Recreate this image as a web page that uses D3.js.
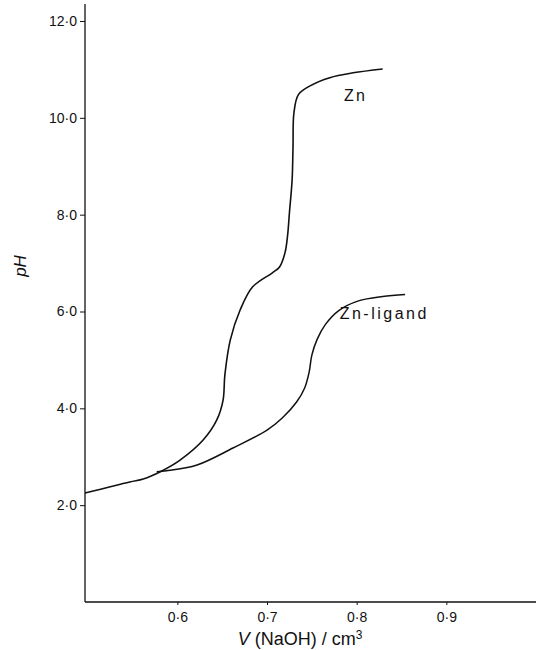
<!DOCTYPE html>
<html>
<head>
<meta charset="utf-8">
<script src="https://cdn.jsdelivr.net/npm/d3@7/dist/d3.min.js"></script>
<style>
  html, body { margin: 0; padding: 0; background: #fff; }
  svg { display: block; }
  text { font-family: "Liberation Sans", Arial, sans-serif; fill: #111; }
</style>
</head>
<body>
<svg id="chart" width="536" height="650"></svg>
<script>
// Titration curves: pH against volume of NaOH added
const znVolume = [0.497, 0.547, 0.562, 0.581, 0.603, 0.629, 0.644, 0.651, 0.653, 0.659,
                  0.670, 0.684, 0.706, 0.714, 0.720, 0.723, 0.725, 0.728, 0.729, 0.730,
                  0.735, 0.748, 0.770, 0.796, 0.829];
const znPH     = [2.25, 2.48, 2.54, 2.69, 2.93, 3.35, 3.76, 4.17, 4.69, 5.41,
                  6.03, 6.51, 6.80, 6.92, 7.21, 7.58, 8.04, 8.72, 9.40, 10.10,
                  10.48, 10.66, 10.83, 10.93, 11.01];

const ligVolume = [0.577, 0.588, 0.622, 0.662, 0.700, 0.717, 0.733, 0.742, 0.747, 0.750,
                   0.756, 0.765, 0.780, 0.802, 0.829, 0.854];
const ligPH     = [2.69, 2.71, 2.83, 3.18, 3.55, 3.80, 4.13, 4.42, 4.75, 5.10,
                   5.43, 5.73, 6.02, 6.22, 6.31, 6.35];

const xTicks = [0.6, 0.7, 0.8, 0.9];
const yTicks = [2, 4, 6, 8, 10, 12];

const svg = d3.select("#chart");

const x = d3.scaleLinear().domain([0.497, 1.0]).range([85, 536]);
const y = d3.scaleLinear().domain([0, 12]).range([602, 21]);

const fmt = d => d3.format(".1f")(d).replace(".", "\u00b7");

// axis lines
svg.append("line")
  .attr("x1", x(0.497)).attr("x2", x(0.497))
  .attr("y1", y(12.35)).attr("y2", y(0))
  .attr("stroke", "#111").attr("stroke-width", 1.3);
svg.append("line")
  .attr("x1", x(0.497)).attr("x2", x(1.0))
  .attr("y1", y(0)).attr("y2", y(0))
  .attr("stroke", "#111").attr("stroke-width", 1.3);

// y axis ticks
const yAxis = svg.append("g")
  .attr("transform", `translate(${x(0.497)},0)`)
  .call(d3.axisLeft(y).tickValues(yTicks).tickSize(5).tickPadding(3).tickFormat(fmt));
yAxis.select(".domain").remove();
yAxis.selectAll("line").attr("stroke", "#111").attr("stroke-width", 1);
yAxis.selectAll("text")
  .style("font-family", "'Liberation Sans', Arial, sans-serif")
  .style("font-size", "14px").attr("fill", "#111");

// x axis ticks
const xAxis = svg.append("g")
  .attr("transform", `translate(0,${y(0)})`)
  .call(d3.axisBottom(x).tickValues(xTicks).tickSize(3).tickPadding(7).tickFormat(fmt));
xAxis.select(".domain").remove();
xAxis.selectAll("line").attr("stroke", "#111").attr("stroke-width", 1);
xAxis.selectAll("text")
  .style("font-family", "'Liberation Sans', Arial, sans-serif")
  .style("font-size", "14px").attr("fill", "#111");

// axis titles
const xt = svg.append("text")
  .attr("x", 300).attr("y", 645)
  .attr("text-anchor", "middle")
  .style("font-size", "18px");
xt.append("tspan").style("font-style", "italic").text("V");
xt.append("tspan").text(" (NaOH) / cm");
xt.append("tspan").attr("dy", -6).style("font-size", "12px").text("3");

svg.append("text")
  .attr("transform", "translate(26,266) rotate(-90)")
  .attr("text-anchor", "middle")
  .style("font-size", "17px")
  .style("font-style", "italic")
  .text("pH");

// curves
const line = d3.line()
  .x(d => x(d[0]))
  .y(d => y(d[1]))
  .curve(d3.curveCatmullRom.alpha(0.5));

const znData = znVolume.map((v, i) => [v, znPH[i]]);
const ligData = ligVolume.map((v, i) => [v, ligPH[i]]);

svg.append("path").datum(znData)
  .attr("d", line).attr("fill", "none")
  .attr("stroke", "#111").attr("stroke-width", 1.6);
svg.append("path").datum(ligData)
  .attr("d", line).attr("fill", "none")
  .attr("stroke", "#111").attr("stroke-width", 1.5);

// curve labels
svg.append("text")
  .attr("x", x(0.786)).attr("y", y(10.35))
  .style("font-size", "16px").style("letter-spacing", "2px")
  .text("Zn");
svg.append("text")
  .attr("x", x(0.781)).attr("y", y(5.85))
  .style("font-size", "16px").style("letter-spacing", "2.5px")
  .text("Zn-ligand");
</script>
</body>
</html>
